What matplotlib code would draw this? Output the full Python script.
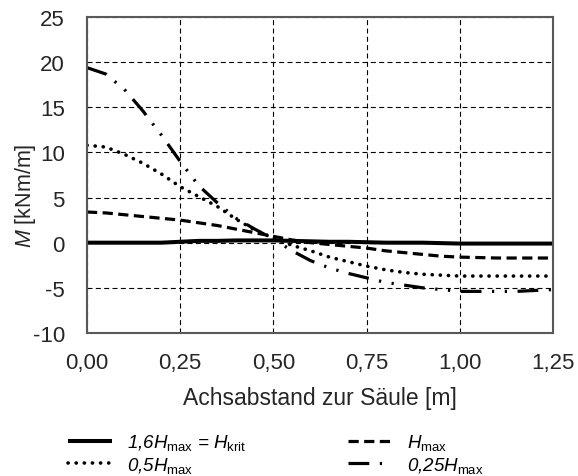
import matplotlib
matplotlib.use('Agg')
from matplotlib import pyplot as plt

plt.rcParams['font.family'] = ['Liberation Sans', 'DejaVu Sans']
plt.rcParams['mathtext.fontset'] = 'custom'
plt.rcParams['mathtext.rm'] = 'Liberation Sans'
plt.rcParams['mathtext.it'] = 'Liberation Sans:italic'
plt.rcParams['axes.unicode_minus'] = False

# distance to column [m]
x = [0.00, 0.05, 0.10, 0.15, 0.20, 0.25, 0.30, 0.35, 0.40, 0.45, 0.50, 0.55, 0.60,
     0.65, 0.70, 0.75, 0.80, 0.85, 0.90, 0.95, 1.00, 1.05, 1.10, 1.15, 1.20, 1.25]

# bending moment M [kNm/m]
m_krit = [0.0, 0.0, 0.0, 0.0, 0.0, 0.1, 0.2, 0.2, 0.25, 0.25, 0.25, 0.2, 0.15,
          0.1, 0.1, 0.05, 0.0, 0.0, 0.0, -0.05, -0.1, -0.1, -0.1, -0.1, -0.1, -0.1]
m_hmax = [3.4, 3.3, 3.1, 2.9, 2.7, 2.5, 2.2, 1.9, 1.5, 1.1, 0.7, 0.3, 0.0,
          -0.2, -0.4, -0.6, -0.9, -1.1, -1.3, -1.5, -1.6, -1.65, -1.7, -1.7, -1.7, -1.7]
m_05 = [10.8, 10.6, 9.8, 8.8, 7.6, 6.2, 5.1, 4.0, 2.6, 1.4, 0.5, -0.3, -0.9,
        -1.6, -2.1, -2.6, -3.0, -3.3, -3.5, -3.6, -3.7, -3.7, -3.7, -3.7, -3.7, -3.7]
m_025 = [19.4, 18.7, 17.0, 14.6, 11.9, 9.0, 6.3, 4.4, 2.7, 1.5, 0.4, -0.9, -2.0,
         -2.8, -3.4, -3.9, -4.4, -4.7, -5.0, -5.2, -5.4, -5.4, -5.4, -5.4, -5.3, -5.2]

xticks = [0, 0.25, 0.5, 0.75, 1.0, 1.25]
xticklabels = ['0,00', '0,25', '0,50', '0,75', '1,00', '1,25']
yticks = [-10, -5, 0, 5, 10, 15, 20, 25]

fig = plt.figure(figsize=(5.78, 4.77), dpi=100)
ax = fig.add_axes([0.1505, 0.300, 0.8065, 0.662])

l1, = ax.plot(x, m_krit, color='black', lw=2.9, solid_capstyle='butt',
              label=r'1,6$H_{\mathrm{max}}$ = $H_{\mathrm{krit}}$')
l2, = ax.plot(x, m_hmax, color='black', lw=2.3, linestyle=(0, (3.2, 1.7)),
              label=r'$H_{\mathrm{max}}$')
l3, = ax.plot(x, m_05, color='black', lw=2.6, linestyle=(0, (0.05, 2.2)),
              dash_capstyle='round', label=r'0,5$H_{\mathrm{max}}$')
l4, = ax.plot(x, m_025, color='black', lw=2.3, linestyle=(0, (6.5, 3.3, 0.7, 3.3, 0.7, 3.3)),
              label=r'0,25$H_{\mathrm{max}}$')

ax.set_xlim(0, 1.25)
ax.set_ylim(-10, 25)
ax.set_xticks(xticks)
ax.set_xticklabels(xticklabels)
ax.set_yticks(yticks)
ax.tick_params(axis='x', length=0, pad=14, labelsize=16, colors='#262626')
ax.tick_params(axis='y', length=0, pad=16, labelsize=16, colors='#262626')
ax.grid(True, color='black', lw=0.8, linestyle=(0, (4.5, 3)))
for s in ax.spines.values():
    s.set_color('#595959')
    s.set_linewidth(1.5)

ax.set_xlabel('Achsabstand zur Säule [m]', fontsize=16.5, labelpad=9, color='#262626')
ax.set_ylabel(r'$M$ [kNm/m]', fontsize=15.5, color='#262626')
ax.yaxis.set_label_coords(-0.105, 0.437)

fig.legend(handles=[l1, l3, l2, l4], ncol=2, loc='upper left',
           bbox_to_anchor=(0.1176, 0.092), frameon=False,
           prop={'size': 13.5, 'style': 'italic'},
           borderpad=0, borderaxespad=0, handlelength=2.35, handletextpad=0.8,
           columnspacing=5.4, labelspacing=0.15)

fig.savefig('out.png', dpi=100)
